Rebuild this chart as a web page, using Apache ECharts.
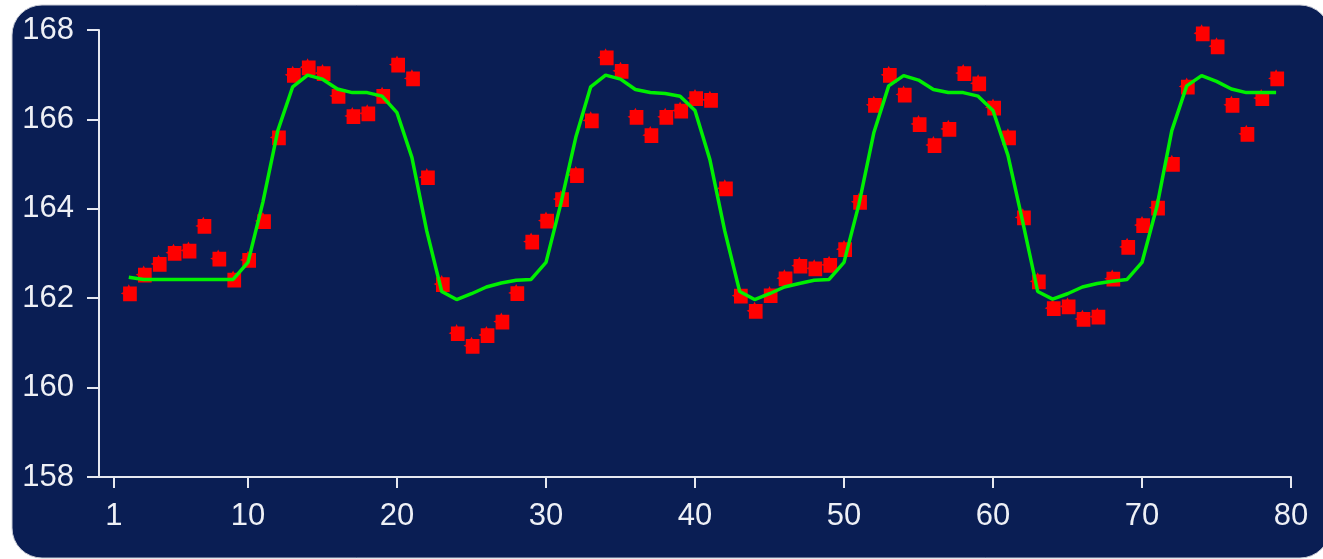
<!DOCTYPE html>
<html>
<head>
<meta charset="utf-8">
<title>Measurements and fitted curve</title>
<script src="https://cdn.jsdelivr.net/npm/echarts@6/dist/echarts.min.js"></script>
<style>
  html, body { margin: 0; padding: 0; background: #ffffff; }
  #chart { width: 1323px; height: 559px; }
</style>
</head>
<body>
<div id="chart"></div>
<script>
// Sample positions (x) for both series
const xValues = [
  2, 3, 4, 5, 6, 7, 8, 9, 10, 11, 12, 13, 14, 15, 16, 17, 18, 19, 20,
  21, 22, 23, 24, 25, 26, 27, 28, 29, 30, 31, 32, 33, 34, 35, 36, 37, 38, 39, 40,
  41, 42, 43, 44, 45, 46, 47, 48, 49, 50, 51, 52, 53, 54, 55, 56, 57, 58, 59, 60,
  61, 62, 63, 64, 65, 66, 67, 68, 69, 70, 71, 72, 73, 74, 75, 76, 77, 78, 79
];

// Measured values (red markers)
const measured = [
  162.12, 162.54, 162.78, 163.03, 163.08, 163.63, 162.90, 162.43, 162.87, 163.74,
  165.61, 167.01, 167.18, 167.05, 166.54, 166.09, 166.15, 166.54, 167.24,
  166.93, 164.72, 162.33, 161.23, 160.95, 161.19, 161.49, 162.13, 163.28, 163.75,
  164.23, 164.77, 165.99, 167.40, 167.10, 166.07, 165.66, 166.07, 166.21, 166.49,
  166.45, 164.47, 162.07, 161.73, 162.08, 162.46, 162.74, 162.68, 162.76, 163.11,
  164.17, 166.34, 167.01, 166.57, 165.91, 165.44, 165.80, 167.05, 166.82, 166.28,
  165.61, 163.82, 162.39, 161.79, 161.83, 161.55, 161.60, 162.45, 163.16, 163.65,
  164.04, 165.02, 166.75, 167.94, 167.65, 166.34, 165.69, 166.49, 166.93
];

// Fitted curve (green line)
const fitted = [
  162.47, 162.42, 162.42, 162.42, 162.42, 162.42, 162.42, 162.42, 162.80, 164.15,
  165.75, 166.73, 166.99, 166.90, 166.68, 166.60, 166.60, 166.52, 166.15,
  165.15, 163.50, 162.15, 161.97, 162.10, 162.25, 162.34, 162.40, 162.42, 162.80,
  164.12, 165.60, 166.73, 166.99, 166.90, 166.67, 166.60, 166.58, 166.52, 166.20,
  165.10, 163.50, 162.15, 161.97, 162.10, 162.25, 162.33, 162.40, 162.42, 162.80,
  164.10, 165.70, 166.75, 166.98, 166.88, 166.67, 166.60, 166.60, 166.52, 166.20,
  165.20, 163.70, 162.15, 161.98, 162.10, 162.25, 162.33, 162.38, 162.42, 162.80,
  164.05, 165.75, 166.75, 166.98, 166.85, 166.68, 166.60, 166.60, 166.60
];

// Axis tick labels
const xTickValues = [1, 10, 20, 30, 40, 50, 60, 70, 80];
const yTickValues = [158, 160, 162, 164, 166, 168];

const pair = (xs, ys) => xs.map((x, i) => [x, ys[i]]);

const axisColor = '#e6e8f0';
const labelFont = {
  color: '#eef0f6',
  fontFamily: '"Liberation Sans", Arial, sans-serif',
  fontSize: 31
};

// Square marker with a small notch on top and on the left side
const markerPath = 'path://M2,2 L6,2 L7,0 L8,2 L14,2 L14,15 L2,15 L2,9 L0,8 L2,7 Z';

const chart = echarts.init(document.getElementById('chart'), null, { renderer: 'canvas' });

chart.setOption({
  animation: false,
  backgroundColor: '#ffffff',
  graphic: [{
    type: 'rect',
    z: -10,
    silent: true,
    shape: { x: 12, y: 5, width: 1318, height: 553, r: 30 },
    style: { fill: '#0a1e54', stroke: '#c9ccd6', lineWidth: 1 }
  }],
  grid: { left: 99, top: 30, right: 32, bottom: 82, containLabel: false },
  xAxis: {
    type: 'value',
    min: 0,
    max: 80,
    splitLine: { show: false },
    axisLine: { show: true, onZero: false, lineStyle: { color: axisColor, width: 2 } },
    axisTick: {
      show: true,
      length: 11,
      customValues: xTickValues,
      lineStyle: { color: axisColor, width: 2 }
    },
    axisLabel: Object.assign({ margin: 24, customValues: xTickValues }, labelFont)
  },
  yAxis: {
    type: 'value',
    min: 158,
    max: 168,
    interval: 2,
    splitLine: { show: false },
    axisLine: { show: true, lineStyle: { color: axisColor, width: 2 } },
    axisTick: {
      show: true,
      length: 12,
      customValues: yTickValues,
      lineStyle: { color: axisColor, width: 2 }
    },
    axisLabel: Object.assign({ margin: 25, customValues: yTickValues }, labelFont)
  },
  series: [
    {
      name: 'measured',
      type: 'scatter',
      data: pair(xValues, measured),
      symbol: markerPath,
      symbolSize: [16, 17],
      itemStyle: { color: '#ff0000', opacity: 1 },
      z: 2
    },
    {
      name: 'fitted',
      type: 'line',
      data: pair(xValues, fitted),
      showSymbol: false,
      symbol: 'none',
      lineStyle: { color: '#00f000', width: 3.5 },
      z: 3
    }
  ]
});
</script>
</body>
</html>
